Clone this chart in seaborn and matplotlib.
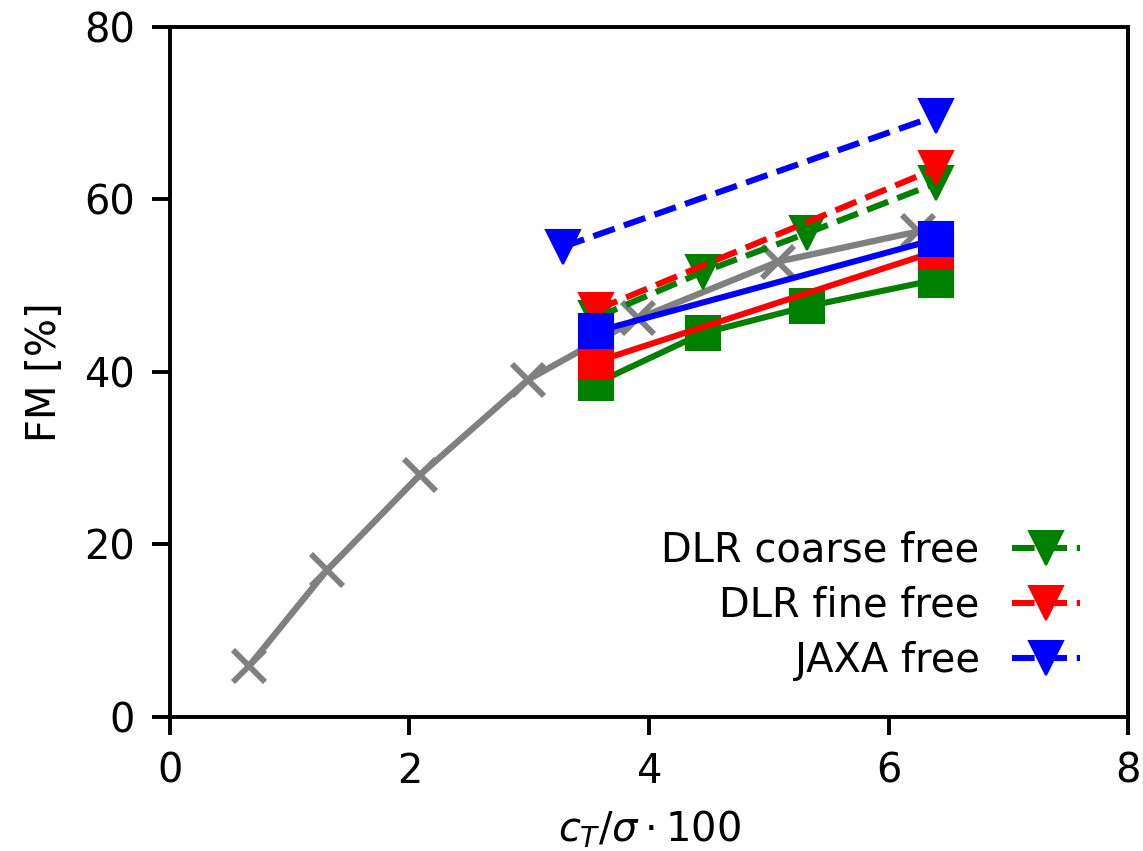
import matplotlib
matplotlib.use("Agg")
import matplotlib.pyplot as plt
import seaborn as sns

# reference curve (grey)
ref_ct = [0.66, 1.31, 2.09, 2.99, 3.91, 5.08, 6.25]
ref_fm = [5.9, 17.0, 28.1, 39.1, 46.2, 52.8, 56.3]

# DLR coarse
coarse_ct = [3.56, 4.45, 5.32, 6.40]
coarse_fm = [38.7, 44.5, 47.6, 50.7]
coarse_free_ct = [3.56, 4.45, 5.32, 6.40]
coarse_free_fm = [46.3, 51.6, 56.1, 61.9]

# DLR fine
fine_ct = [3.56, 6.40]
fine_fm = [41.2, 54.0]
fine_free_ct = [3.56, 6.40]
fine_free_fm = [47.2, 63.6]

# JAXA
jaxa_ct = [3.56, 6.40]
jaxa_fm = [44.7, 55.4]
jaxa_free_ct = [3.28, 6.40]
jaxa_free_fm = [54.5, 69.7]

sns.set_style("ticks")
plt.rcParams["font.family"] = ["DejaVu Sans"]
plt.rcParams["font.size"] = 14.4
plt.rcParams["text.color"] = "black"
plt.rcParams["axes.labelcolor"] = "black"

fig = plt.figure(figsize=(5.715, 4.255), dpi=200)
ax = fig.add_axes([0.1487, 0.1575, 0.8382, 0.8108])

lw = 2.2
ms = 12.2

sns.lineplot(x=ref_ct, y=ref_fm, ax=ax, color="gray", marker="x", markersize=11.5,
             markeredgecolor="gray", markeredgewidth=2.1, linewidth=2.3,
             sort=False, estimator=None)

sns.lineplot(x=coarse_ct, y=coarse_fm, ax=ax, color="green", marker="s", markersize=ms,
             markeredgecolor="green", linewidth=lw, sort=False, estimator=None)
sns.lineplot(x=coarse_free_ct, y=coarse_free_fm, ax=ax, color="green", marker="v", markersize=ms,
             markeredgecolor="green", linewidth=lw, linestyle="--", sort=False, estimator=None,
             label="DLR coarse free")

sns.lineplot(x=fine_ct, y=fine_fm, ax=ax, color="red", marker="s", markersize=ms,
             markeredgecolor="red", linewidth=lw, sort=False, estimator=None)
sns.lineplot(x=fine_free_ct, y=fine_free_fm, ax=ax, color="red", marker="v", markersize=ms,
             markeredgecolor="red", linewidth=lw, linestyle="--", sort=False, estimator=None,
             label="DLR fine free")

sns.lineplot(x=jaxa_ct, y=jaxa_fm, ax=ax, color="blue", marker="s", markersize=ms,
             markeredgecolor="blue", linewidth=lw, sort=False, estimator=None)
sns.lineplot(x=jaxa_free_ct, y=jaxa_free_fm, ax=ax, color="blue", marker="v", markersize=ms,
             markeredgecolor="blue", linewidth=lw, linestyle="--", sort=False, estimator=None,
             label="JAXA free")

ax.set_xlim(0, 8)
ax.set_ylim(0, 80)
ax.set_xticks([0, 2, 4, 6, 8])
ax.set_yticks([0, 20, 40, 60, 80])
ax.tick_params(length=6.5, width=1.4, pad=6, labelsize=14.4, colors="black")
for sp in ax.spines.values():
    sp.set_linewidth(1.4)
    sp.set_color("black")
    sp.set_visible(True)

ax.set_xlabel(r"$c_T/\sigma \cdot 100$", fontsize=14.4, labelpad=6.2)
ax.set_ylabel("FM [%]", fontsize=14.4, labelpad=7)

ax.legend(loc="lower right", bbox_to_anchor=(0.987, 0.0), frameon=False,
          markerfirst=False, fontsize=14.4, handlelength=1.7, labelspacing=0.38)

fig.savefig("out.png", dpi=200)
